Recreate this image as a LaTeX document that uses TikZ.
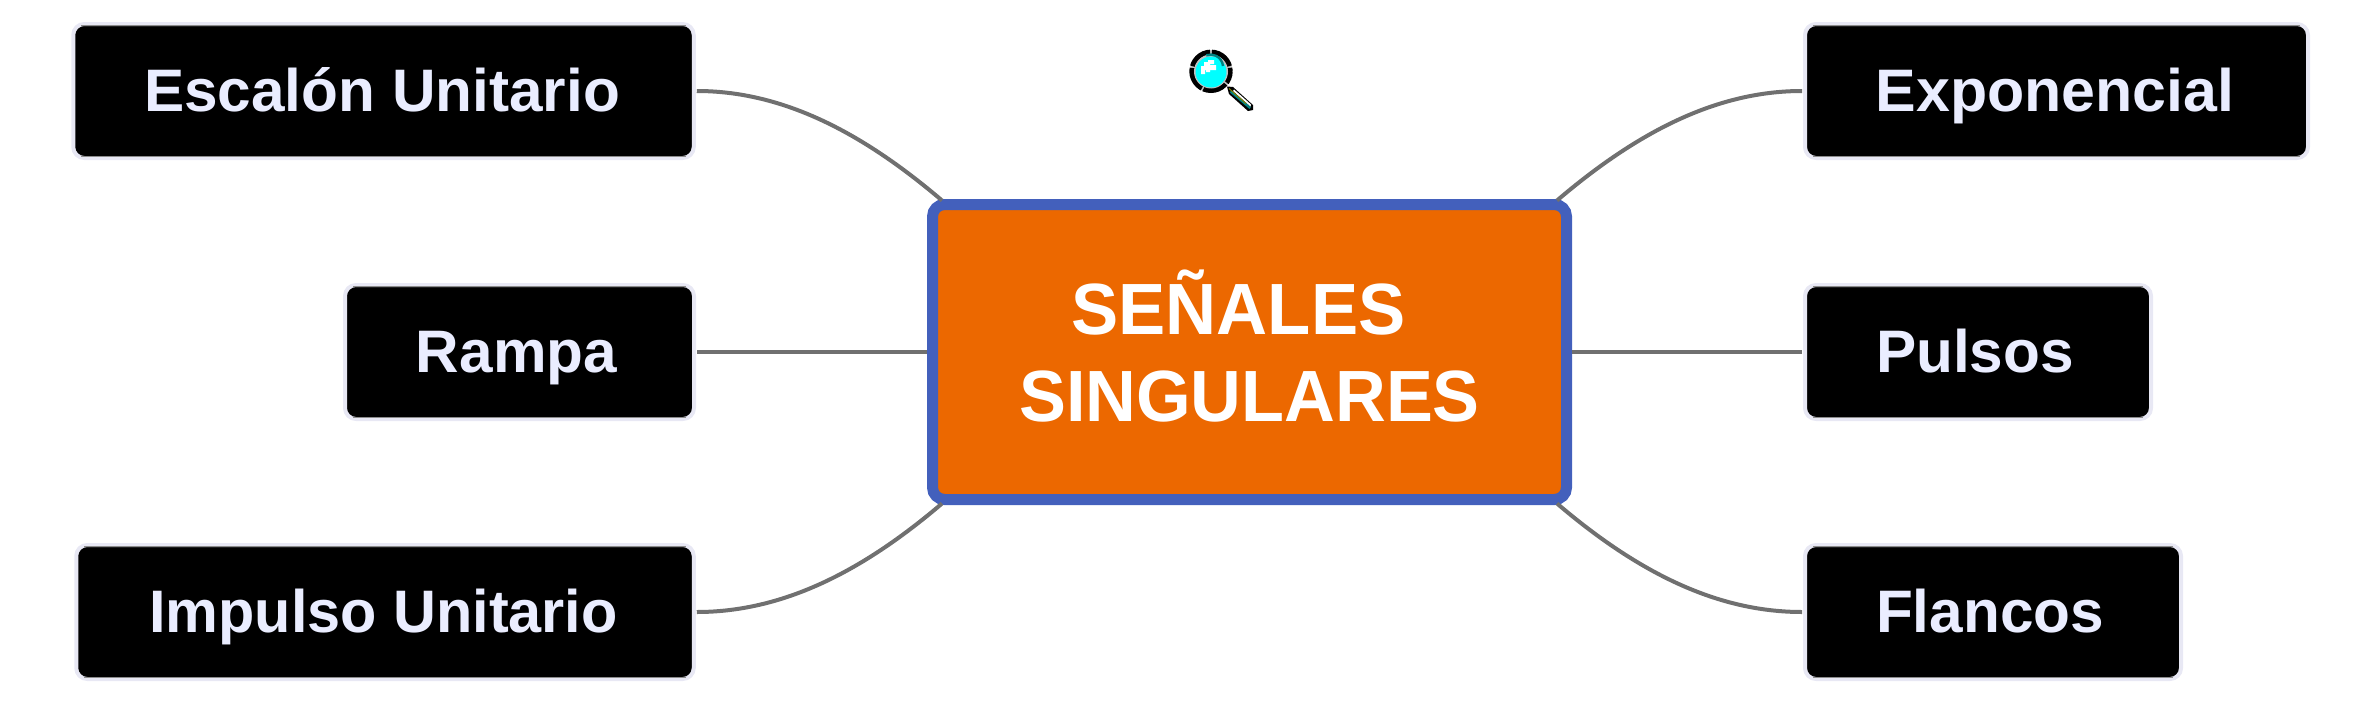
\documentclass[tikz,border=0pt]{standalone}
\usepackage{fontspec}
\setmainfont{Liberation Sans}
\definecolor{blueedge}{HTML}{4360BC}
\definecolor{orangefill}{HTML}{EC6800}
\definecolor{lbltext}{HTML}{EAEDFF}
\definecolor{lbledge}{HTML}{E8E8F4}
\definecolor{conncol}{HTML}{707070}
\definecolor{mcyan}{HTML}{00FFFF}
\definecolor{mteal}{HTML}{008080}
\definecolor{mgray}{HTML}{C0C0C0}
\definecolor{molive}{HTML}{808000}
\newcommand{\lblsq}[3]{\scalebox{#1}[1]{#2}\hspace*{#3pt}}
\tikzset{
  mainbox/.style={draw=blueedge,line width=11pt,fill=orangefill,rounded corners=12pt,outer sep=0pt,inner sep=0pt,
    minimum width=634pt,minimum height=295pt,text=white,align=center,font=\bfseries\fontsize{72.6}{87}\selectfont},
  leafbox/.style={draw=lbledge,line width=4pt,fill=black,rounded corners=11pt,outer sep=0pt,inner sep=0pt,
    minimum height=134pt,text=lbltext,text height=43pt,text depth=3pt,font=\bfseries\fontsize{60}{70}\selectfont},
  conn/.style={draw=conncol,line width=4.4pt},
  conn2/.style={draw=conncol,line width=4pt},
  edgeline/.style={draw=black!45,line width=1pt},
}
\begin{document}
\begin{tikzpicture}[x=1pt,y=-1pt]
\useasboundingbox (0,0) rectangle (2380,704);
\node[mainbox] (main) at (1249.5,352) {\scalebox{0.974}[1]{SEÑALES}\hspace*{22pt}\\\scalebox{0.968}[1]{SINGULARES}\rule[-13pt]{0pt}{13pt}};
\node[leafbox,minimum width=620.5pt] (esc) at (383.5,91) {\lblsq{1.005}{Escalón Unitario}{3}};
\node[leafbox,minimum width=349pt] (ram) at (519.5,352) {\lblsq{1.005}{Rampa}{6}};
\node[leafbox,minimum width=617.5pt] (imp) at (385,612) {\lblsq{0.99}{Impulso Unitario}{3}};
\node[leafbox,minimum width=503pt] (exp) at (2056.5,91) {\lblsq{1.015}{Exponencial}{3}};
\node[leafbox,minimum width=346pt] (pul) at (1978,352) {\lblsq{1.005}{Pulsos}{6}};
\node[leafbox,minimum width=376pt] (fla) at (1993,612) {\lblsq{1.005}{Flancos}{6}};
\foreach \n in {esc,ram,imp,exp,pul,fla}{
  \draw[edgeline] ([xshift=8pt,yshift=-1.4pt]\n.north west) -- ([xshift=-8pt,yshift=-1.4pt]\n.north east);
  \draw[edgeline] ([xshift=8pt,yshift=1.4pt]\n.south west) -- ([xshift=-8pt,yshift=1.4pt]\n.south east);
}
\coordinate (mnw) at ([xshift=9.5pt,yshift=4pt]main.north west);
\coordinate (mne) at ([xshift=-9.5pt,yshift=4pt]main.north east);
\coordinate (msw) at ([xshift=9.5pt,yshift=-4pt]main.south west);
\coordinate (mse) at ([xshift=-9.5pt,yshift=-4pt]main.south east);
\draw[conn2] ([xshift=3pt]esc.east) .. controls +(84,0) and +(-82,-70) .. (mnw);
\draw[conn2] ([xshift=3pt]imp.east) .. controls +(84,0) and +(-82,70) .. (msw);
\draw[conn2] ([xshift=-3pt]exp.west) .. controls +(-84,0) and +(82,-70) .. (mne);
\draw[conn2] ([xshift=-3pt]fla.west) .. controls +(-84,0) and +(82,70) .. (mse);
\draw[conn] ([xshift=3pt]ram.east) -- ([xshift=-5.5pt]main.west);
\draw[conn] ([xshift=-3pt]pul.west) -- ([xshift=5.5pt]main.east);
% magnifier
\fill[mgray] (1211,71.3) circle (21.2);
\draw[black,line width=5pt,dash pattern=on 24pt off 1.8pt,dash phase=12pt] (1211,71.3) circle (19.2);
\fill[mgray] (1211,71.5) circle (17);
\fill[mcyan] (1211,72) circle (15.5);
\fill[white] (1201,66) rectangle (1205,74) (1204,62) rectangle (1210,70) (1208,60) rectangle (1214,64)
  (1208,65) rectangle (1216,70) (1206,70) rectangle (1210,72);
\draw[mteal,line width=2.4pt] (1223,66) arc[start angle=-5,end angle=-110,radius=12.5];
\fill[black] (1227,86.5) -- (1233,87) -- (1253,105) -- (1253,110) -- (1248,111) -- (1229,94) -- cycle;
\fill[mteal] (1231,90) -- (1251,107) -- (1249.5,109) -- (1230,92.5) -- cycle;
\fill[white] (1234,89.5) -- (1251,104.5) -- (1250.5,106.5) -- (1233,91) -- cycle;
\draw[molive,line width=1pt] (1229,88.5) -- (1246,103.5);
\end{tikzpicture}
\end{document}
